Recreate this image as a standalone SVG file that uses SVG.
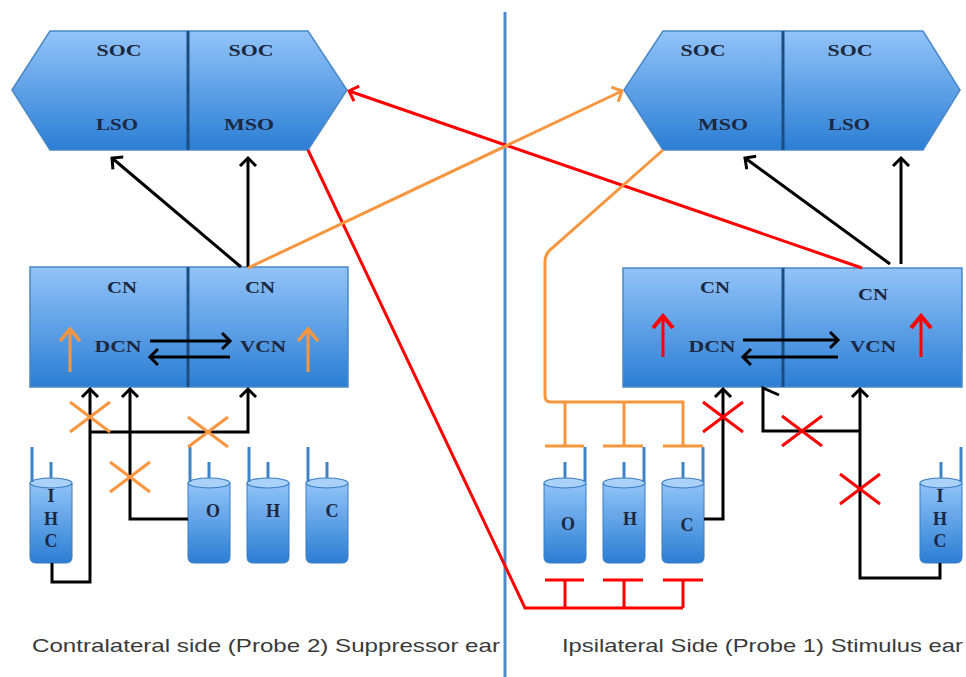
<svg xmlns="http://www.w3.org/2000/svg" xmlns:xlink="http://www.w3.org/1999/xlink" width="966" height="677" viewBox="0 0 966 677">
<style>
.box{fill:url(#bg);stroke:#4a88c8;stroke-width:1.5}
.div{stroke:#1d4c80;stroke-width:3}
.t{font-family:"Liberation Serif",serif;font-size:17px;font-weight:bold;fill:#1c2740;text-anchor:middle}
.ct{font-family:"Liberation Serif",serif;font-size:18px;font-weight:bold;fill:#1c2740;text-anchor:middle}
.cap{font-family:"Liberation Sans",Arial,sans-serif;font-size:19px;fill:#3a3a3a}
.k{fill:none;stroke:#000;stroke-width:3}
.r{fill:none;stroke:#f00;stroke-width:3}
.o{fill:none;stroke:#f7963f;stroke-width:3}
.stick{stroke:#3f82c6;stroke-width:3}
</style>
<defs>
<linearGradient id="bg" x1="0" y1="0" x2="0" y2="1">
<stop offset="0" stop-color="#92c3f8"/>
<stop offset="1" stop-color="#2b7ed4"/>
</linearGradient>
<marker id="ak" viewBox="-1 -11 12 22" refX="8" refY="0" markerWidth="12" markerHeight="22" orient="auto" markerUnits="userSpaceOnUse"><path d="M0,-8 L8,0 L0,8" fill="none" stroke="#000" stroke-width="3"/></marker>
<marker id="ar" viewBox="-1 -11 12 22" refX="8" refY="0" markerWidth="12" markerHeight="22" orient="auto" markerUnits="userSpaceOnUse"><path d="M0,-8 L8,0 L0,8" fill="none" stroke="#f00" stroke-width="3"/></marker>
<marker id="ao" viewBox="-1 -11 12 22" refX="8" refY="0" markerWidth="12" markerHeight="22" orient="auto" markerUnits="userSpaceOnUse"><path d="M0,-8 L8,0 L0,8" fill="none" stroke="#f7963f" stroke-width="3"/></marker>
<marker id="ar2" viewBox="-1 -13 16 26" refX="12" refY="0" markerWidth="16" markerHeight="26" orient="auto" markerUnits="userSpaceOnUse"><path d="M0,-10 L12,0 L0,10" fill="none" stroke="#f00" stroke-width="4"/></marker>
<marker id="ao2" viewBox="-1 -13 16 26" refX="12" refY="0" markerWidth="16" markerHeight="26" orient="auto" markerUnits="userSpaceOnUse"><path d="M0,-10 L12,0 L0,10" fill="none" stroke="#f7963f" stroke-width="3.5"/></marker>
<g id="cyl">
<path d="M0,5 L0,79 Q0,85 6,85 L36,85 Q42,85 42,79 L42,5 Z" fill="url(#bg)" stroke="#3a7cc0" stroke-width="1"/>
<ellipse cx="21" cy="5" rx="21" ry="5" fill="#a9d1f9" stroke="#3a7cc0" stroke-width="1.2"/>
<line x1="21" y1="-16" x2="21" y2="0" class="stick"/>
</g>
<g id="cellL"><use xlink:href="#cyl"/><line x1="2" y1="-31" x2="2" y2="4" class="stick"/></g>
<g id="cellR"><use xlink:href="#cyl"/><line x1="41" y1="-31" x2="41" y2="4" class="stick"/></g>
</defs>
<rect width="966" height="677" fill="#fff"/>
<line x1="505" y1="12" x2="505" y2="677" stroke="#4f8bc9" stroke-width="3"/>

<g id="soc-left">
<polygon class="box" points="12,90 50,31 308,31 347,90 308,150 50,150"/>
<line class="div" x1="188" y1="31" x2="188" y2="150"/>
<text class="t" x="119" y="56" textLength="45" lengthAdjust="spacingAndGlyphs">SOC</text>
<text class="t" x="117" y="130" textLength="42" lengthAdjust="spacingAndGlyphs">LSO</text>
<text class="t" x="251" y="56" textLength="45" lengthAdjust="spacingAndGlyphs">SOC</text>
<text class="t" x="249" y="130" textLength="50" lengthAdjust="spacingAndGlyphs">MSO</text>
</g>
<g id="soc-right">
<polygon class="box" points="624,90 663,31 923,31 960,90 923,150 663,150"/>
<line class="div" x1="783" y1="31" x2="783" y2="150"/>
<text class="t" x="703" y="56" textLength="45" lengthAdjust="spacingAndGlyphs">SOC</text>
<text class="t" x="723" y="130" textLength="50" lengthAdjust="spacingAndGlyphs">MSO</text>
<text class="t" x="850" y="56" textLength="45" lengthAdjust="spacingAndGlyphs">SOC</text>
<text class="t" x="849" y="130" textLength="42" lengthAdjust="spacingAndGlyphs">LSO</text>
</g>
<g id="cn-left">
<rect class="box" x="30" y="267" width="318" height="120"/>
<line class="div" x1="188" y1="267" x2="188" y2="387"/>
<text class="t" x="122" y="293" textLength="30" lengthAdjust="spacingAndGlyphs">CN</text>
<text class="t" x="260" y="293" textLength="30" lengthAdjust="spacingAndGlyphs">CN</text>
<text class="t" x="118" y="352" textLength="47" lengthAdjust="spacingAndGlyphs">DCN</text>
<text class="t" x="263" y="352" textLength="46" lengthAdjust="spacingAndGlyphs">VCN</text>
</g>
<g id="cn-right">
<rect class="box" x="623" y="268" width="339" height="119"/>
<line class="div" x1="783" y1="268" x2="783" y2="387"/>
<text class="t" x="715" y="293" textLength="30" lengthAdjust="spacingAndGlyphs">CN</text>
<text class="t" x="873" y="300" textLength="30" lengthAdjust="spacingAndGlyphs">CN</text>
<text class="t" x="712" y="352" textLength="47" lengthAdjust="spacingAndGlyphs">DCN</text>
<text class="t" x="873" y="352" textLength="46" lengthAdjust="spacingAndGlyphs">VCN</text>
</g>

<g id="ihc-left"><use xlink:href="#cellL" x="30" y="478"/>
<text class="ct" x="51" y="502">I</text><text class="ct" x="51" y="525">H</text><text class="ct" x="51" y="547">C</text></g>
<g id="ohc-left-o"><use xlink:href="#cellL" x="188" y="478"/><text class="ct" x="213" y="517">O</text></g>
<g id="ohc-left-h"><use xlink:href="#cellL" x="247" y="478"/><text class="ct" x="273" y="517">H</text></g>
<g id="ohc-left-c"><use xlink:href="#cellL" x="306" y="478"/><text class="ct" x="332" y="517">C</text></g>
<g id="ohc-right-o"><use xlink:href="#cellR" x="544" y="478"/><text class="ct" x="568" y="530">O</text></g>
<g id="ohc-right-h"><use xlink:href="#cellR" x="603" y="478"/><text class="ct" x="630" y="525">H</text></g>
<g id="ohc-right-c"><use xlink:href="#cellR" x="662" y="478"/><text class="ct" x="687" y="531">C</text></g>
<g id="ihc-right"><use xlink:href="#cellR" x="920" y="478"/>
<text class="ct" x="940" y="502">I</text><text class="ct" x="940" y="525">H</text><text class="ct" x="940" y="547">C</text></g>

<g id="connectors">
<path class="k" d="M241,267 L112,158" marker-end="url(#ak)"/>
<path class="k" d="M248,267 L248,158" marker-end="url(#ak)"/>
<path class="k" d="M890,264 L745,158" marker-end="url(#ak)"/>
<path class="k" d="M901,264 L901,158" marker-end="url(#ak)"/>
<path class="k" d="M150,341 L230,341" marker-end="url(#ak)"/>
<path class="k" d="M230,357 L150,357" marker-end="url(#ak)"/>
<path class="k" d="M743,340 L838,340" marker-end="url(#ak)"/>
<path class="k" d="M838,357 L743,357" marker-end="url(#ak)"/>
<path class="k" d="M52,563 L52,582 L90,582 L90,389" marker-end="url(#ak)"/>
<path class="k" d="M90,432 L248,432 L248,389" marker-end="url(#ak)"/>
<path class="k" d="M188,519 L130,519 L130,389" marker-end="url(#ak)"/>
<path class="k" d="M704,519 L723,519 L723,389" marker-end="url(#ak)"/>
<path class="k" d="M940,563 L940,578 L860,578 L860,389" marker-end="url(#ak)"/>
<path class="k" d="M860,431 L763,431 L763,388 L779,395"/>

<path class="r" d="M862,268 L349,91" marker-end="url(#ar)"/>
<path class="r" d="M308,150 L525,608 L683,608"/>
<path class="r" d="M565,608 V580 M624,608 V580 M683,608 V580 M545,580 H584 M603,580 H643 M663,580 H703"/>
<path class="r" d="M663,357 V316" stroke-width="4" marker-end="url(#ar2)"/>
<path class="r" d="M921,357 V316" stroke-width="4" marker-end="url(#ar2)"/>

<path class="o" d="M248,268 L622,91" marker-end="url(#ao)"/>
<path class="o" d="M663,150 L551,249 Q545,254 545,262 L545,396 Q545,402 551,402 L683,402 L683,446"/>
<path class="o" d="M565,402 V446 M624,402 V446 M545,446 H584 M603,446 H643 M663,446 H703"/>
<path class="o" d="M70,372 V329" stroke-width="3.5" marker-end="url(#ao2)"/>
<path class="o" d="M308,372 V329" stroke-width="3.5" marker-end="url(#ao2)"/>

<path class="o" d="M70,402 L110,432 M70,432 L110,402"/>
<path class="o" d="M188,417 L228,447 M188,447 L228,417"/>
<path class="o" d="M110,462 L150,492 M110,492 L150,462"/>
<path class="r" d="M703,402 L743,432 M703,432 L743,402"/>
<path class="r" d="M782,416 L822,446 M782,446 L822,416"/>
<path class="r" d="M840,474 L880,504 M840,504 L880,474"/>
</g>

<text class="cap" x="32" y="652" textLength="468" lengthAdjust="spacingAndGlyphs">Contralateral side (Probe 2) Suppressor ear</text>
<text class="cap" x="562" y="652" textLength="401" lengthAdjust="spacingAndGlyphs">Ipsilateral Side (Probe 1) Stimulus ear</text>
</svg>
